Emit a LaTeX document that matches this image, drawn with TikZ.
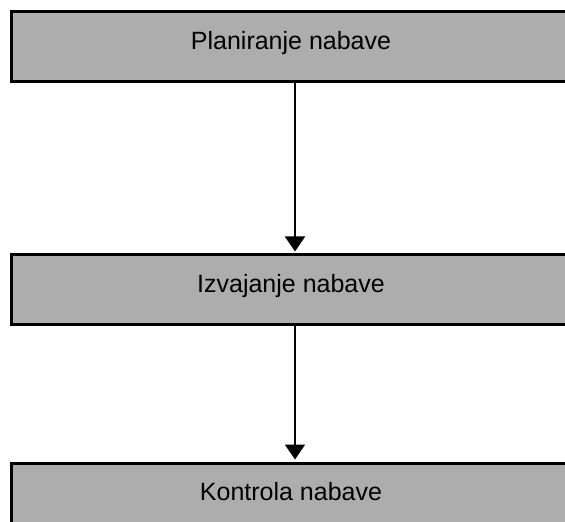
\documentclass[tikz,border=0pt]{standalone}
\usepackage{fontspec}
\setmainfont{Liberation Sans}
\usetikzlibrary{positioning,arrows.meta}

\definecolor{boxgray}{gray}{0.68}

\tikzset{
  stage/.style={draw, fill=boxgray, line width=1.5pt, rectangle,
    minimum width=280pt, minimum height=35pt, inner sep=0pt,
    text height=0.73em, text depth=0.5em,
    font=\fontsize{12.5}{14}\selectfont},
  flow/.style={-{Triangle[width=10pt,length=7.5pt]}, line width=1pt, shorten >=1pt}
}

\begin{document}
\begin{tikzpicture}[x=1pt,y=1pt]
  \useasboundingbox (0,0) rectangle (282.5,-261);
  \clip (0,0) rectangle (282.5,-261);

  \node [stage] (planiranje) at (145.5,-23.5) {Planiranje nabave};
  \node [stage, below = 85pt of planiranje] (izvajanje) {Izvajanje nabave};
  \node [stage, below = 67.5pt of izvajanje] (kontrola) {Kontrola nabave};

  \draw [flow] ([xshift=2pt]planiranje.south) -- ([xshift=2pt]izvajanje.north);
  \draw [flow] ([xshift=2pt]izvajanje.south) -- ([xshift=2pt]kontrola.north);
\end{tikzpicture}
\end{document}
